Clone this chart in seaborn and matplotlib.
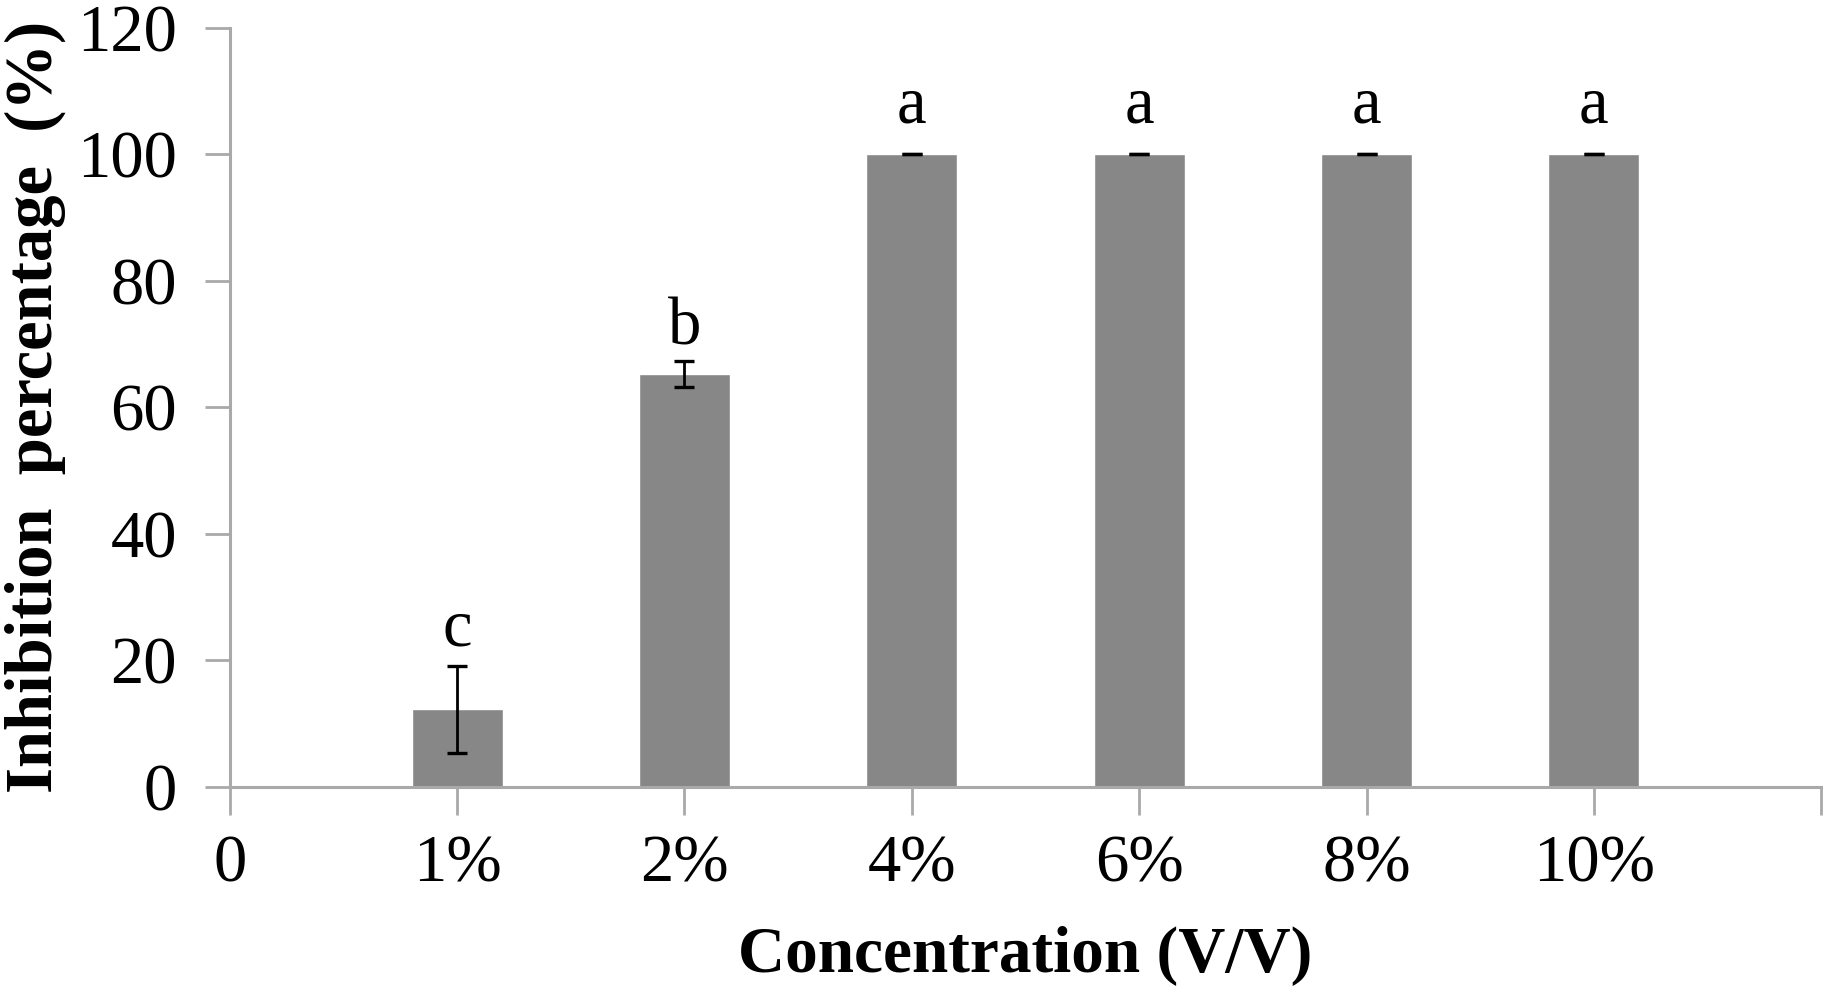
import numpy as np
import pandas as pd
import matplotlib
matplotlib.use("Agg")
import matplotlib.pyplot as plt
import seaborn as sns

# data
concentrations = ["0", "1%", "2%", "4%", "6%", "8%", "10%"]
inhibition = [0, 12.3, 65.3, 100, 100, 100, 100]
sd = [0, 6.9, 2.0, 0, 0, 0, 0]
letters = ["", "c", "b", "a", "a", "a", "a"]
letter_y = [0, 22.4, 70.0, 105.0, 105.0, 105.0, 105.0]

df = pd.DataFrame({"conc": concentrations, "inh": inhibition})

sns.set_style("white")
plt.rcParams["font.family"] = ["Liberation Serif", "DejaVu Serif"]
plt.rcParams["text.color"] = "black"
plt.rcParams["axes.labelcolor"] = "black"
plt.rcParams["xtick.labelcolor"] = "black"
plt.rcParams["ytick.labelcolor"] = "black"

axis_grey = "#a9a9a9"

fig = plt.figure(figsize=(18.26, 9.9), dpi=100)
ax = fig.add_axes([0.1258, 0.205, 0.8716, 0.767])

sns.barplot(data=df, x="conc", y="inh", color="#878787", saturation=1,
            width=0.4, errorbar=None, ax=ax)

# error bars (skip the zero control)
pos = np.arange(len(concentrations))
ax.errorbar(pos[1:], inhibition[1:], yerr=sd[1:], fmt="none", ecolor="black",
            elinewidth=2, capsize=7, capthick=2.4)

# significance letters
for x, y, t in zip(pos, letter_y, letters):
    if t:
        ax.text(x, y, t, ha="center", va="baseline", fontsize=48)

ax.set_xlim(0, 7)
ax.set_ylim(0, 120)
ax.set_xticks(np.arange(8))
ax.set_xticklabels(concentrations + [""])
ax.set_yticks(np.arange(0, 121, 20))

for side in ["top", "right"]:
    ax.spines[side].set_visible(False)
for side in ["left", "bottom"]:
    ax.spines[side].set_color(axis_grey)
    ax.spines[side].set_linewidth(2.2)

ax.tick_params(axis="x", direction="out", length=20, width=2, color=axis_grey,
               labelsize=48, pad=14, bottom=True)
ax.tick_params(axis="y", direction="out", length=18, width=2, color=axis_grey,
               labelsize=48, pad=20, left=True)

ax.set_xlabel("Concentration (V/V)", fontsize=47, fontweight="bold", labelpad=22)
ax.set_ylabel("Inhibition  percentage  (%)", fontsize=48, fontweight="bold", labelpad=8)

fig.savefig("out.png", dpi=100)
